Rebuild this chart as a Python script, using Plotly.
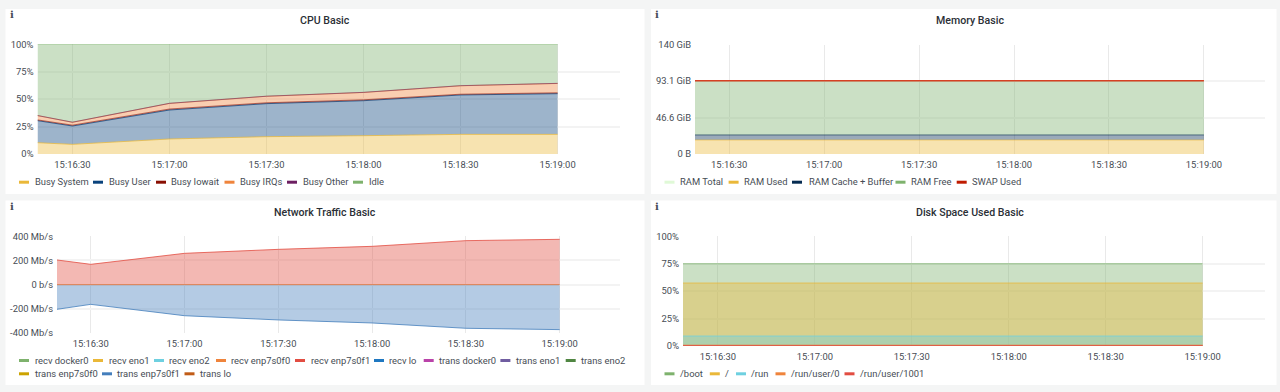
import plotly.graph_objects as go

# ---------- data ----------
TIMES = ["2024-01-01 15:16:19.2", "2024-01-01 15:16:30", "2024-01-01 15:17:00", "2024-01-01 15:17:30",
         "2024-01-01 15:18:00", "2024-01-01 15:18:30", "2024-01-01 15:19:00"]

cpu_system = [10.3, 8.8, 13.7, 15.8, 16.7, 17.9, 17.9]
cpu_user = [20.1, 16.7, 26.4, 30.1, 31.9, 35.9, 37.1]
cpu_iowait = [0.7, 0.8, 0.9, 0.8, 0.8, 0.7, 0.8]
cpu_irqs = [3.9, 2.6, 5.1, 5.9, 6.7, 7.7, 8.5]
cpu_other = [0.1, 0.1, 0.1, 0.1, 0.1, 0.1, 0.1]
cpu_idle = [64.9, 71.0, 53.8, 47.3, 43.8, 37.7, 35.6]

mem_total = [93.6] * 7
mem_used = [17.9] * 7
mem_cache = [6.4] * 7
mem_free = [69.3] * 7
mem_swap = [0.0] * 7

net_recv_f1 = [204, 168, 259, 292, 317, 364, 375]
net_trans_f1 = [-204, -163, -257, -292, -317, -361, -372]
net_zero = [0, 0, 0, 0, 0, 0, 0]

disk_boot = [75.0] * 7
disk_root = [57.4] * 7
disk_run = [9.1] * 7
disk_user0 = [0.8] * 7
disk_user1001 = [0.4] * 7

TICK_TIMES = ["2024-01-01 15:16:30", "2024-01-01 15:17:00", "2024-01-01 15:17:30",
              "2024-01-01 15:18:00", "2024-01-01 15:18:30", "2024-01-01 15:19:00"]
TICK_LABELS = ["15:16:30", "15:17:00", "15:17:30", "15:18:00", "15:18:30", "15:19:00"]
PCT_TICKS = [0, 25, 50, 75, 100]
PCT_LABELS = ["0%", "25%", "50%", "75%", "100%"]
MEM_TICKS = [0, 46.566, 93.132, 139.7]
MEM_LABELS = ["0 B", "46.6 GiB", "93.1 GiB", "140 GiB"]
NET_TICKS = [-400, -200, 0, 200, 400]
NET_LABELS = ["-400 Mb/s", "-200 Mb/s", "0 b/s", "200 Mb/s", "400 Mb/s"]

TITLES = ["CPU Basic", "Memory Basic", "Network Traffic Basic", "Disk Space Used Basic"]

# ---------- style ----------
W, H = 1280, 392
BG = "#f4f5f5"
TXT = "#464c54"
VGRID = "#e9e9e9"
HGRID = "#f3f3f3"
FONT = "Roboto"
FS = 9.4
X_RANGE = ["2024-01-01 15:16:19.2", "2024-01-01 15:19:19.3"]

def rgba(hex_c, a=0.4):
    h = hex_c.lstrip("#")
    return f"rgba({int(h[0:2],16)},{int(h[2:4],16)},{int(h[4:6],16)},{a})"

# plot rectangles in pixels: left, right, top, bottom
PLOTS = [(37.5, 620, 44.3, 154), (695, 1265, 44.5, 154), (57, 620, 236.3, 333), (683, 1265, 236.3, 346)]
PANELS = [(5.5, 644.5, 9, 194), (651, 1276.5, 9, 194), (5.5, 644.5, 200.6, 385), (651, 1276.5, 200.6, 385)]
TITLE_POS = [(324.5, 20.7), (970, 20.7), (325, 212), (970, 212)]
ICON_POS = [(11.5, 15), (657, 15), (11.5, 207), (657, 207)]

fig = go.Figure()

def area(panel, name, ys, color, stack=None, fill=True, width=1, line_alpha=0.75):
    ax = "" if panel == 0 else str(panel + 1)
    kw = {}
    if stack:
        kw["stackgroup"] = stack
    elif fill:
        kw["fill"] = "tozeroy"
    fig.add_trace(go.Scatter(x=TIMES, y=ys, name=name, mode="lines", xaxis="x" + ax, yaxis="y" + ax, cliponaxis=False,
                             line=dict(color=rgba(color, line_alpha), width=width), fillcolor=rgba(color) if fill else None,
                             showlegend=False, hoverinfo="x+y+name", **kw))

CPU = [("Busy System", cpu_system, "#EAB839"), ("Busy User", cpu_user, "#0A437C"),
       ("Busy Iowait", cpu_iowait, "#890F02"), ("Busy IRQs", cpu_irqs, "#EF843C"),
       ("Busy Other", cpu_other, "#6D1F62"), ("Idle", cpu_idle, "#7EB26D")]
for n, v, c in CPU:
    area(0, n, v, c, stack="cpu", line_alpha=0.55 if n in ("Busy Iowait", "Busy Other") else 0.75)

area(1, "RAM Total", mem_total, "#E0F9D7", fill=False)
MEM = [("RAM Used", mem_used, "#EAB839"), ("RAM Cache + Buffer", mem_cache, "#052B51"),
       ("RAM Free", mem_free, "#7EB26D"), ("SWAP Used", mem_swap, "#BF1B00")]
for n, v, c in MEM:
    if n == "SWAP Used":
        area(1, n, v, "#D8381C", stack="mem", width=1.5, line_alpha=0.95)
    else:
        area(1, n, v, c, stack="mem", line_alpha=0.6)

NET = [("recv docker0", net_zero, "#7EB26D"), ("recv eno1", net_zero, "#EAB839"), ("recv eno2", net_zero, "#6ED0E0"),
       ("recv enp7s0f0", net_zero, "#EF843C"), ("recv enp7s0f1", net_recv_f1, "#E24D42"), ("recv lo", net_zero, "#1F78C1"),
       ("trans docker0", net_zero, "#BA43A9"), ("trans eno1", net_zero, "#705DA0"), ("trans eno2", net_zero, "#508642"),
       ("trans enp7s0f0", net_zero, "#CCA300"), ("trans enp7s0f1", net_trans_f1, "#447EBC"), ("trans lo", net_zero, "#C15C17")]
for n, v, c in NET:
    if n == "trans lo":
        area(2, n, v, "#DE7A45", line_alpha=0.9)
    elif v is net_zero:
        area(2, n, v, c, width=0.5, line_alpha=0.0)
    else:
        area(2, n, v, c, line_alpha=0.8)

DISK = [("/boot", disk_boot, "#7EB26D"), ("/", disk_root, "#EAB839"), ("/run", disk_run, "#6ED0E0"),
        ("/run/user/0", disk_user0, "#EF843C"), ("/run/user/1001", disk_user1001, "#E24D42")]
for n, v, c in DISK:
    area(3, n, v, c)

# ---------- legends (swatch x, text x, y in pixels) ----------
LEG = [
    ([(n, c) for n, _, c in CPU], [(19, 34.7, 181.7), (93, 108.6, 181.7), (156, 171, 181.7), (224.5, 239.6, 181.7), (287, 303, 181.7), (353, 369, 181.7)]),
    ([("RAM Total", "#E0F9D7")] + [(n, c) for n, _, c in MEM], [(664.5, 680, 181.7), (728.6, 744, 181.7), (792, 808.6, 181.7), (895.5, 910.6, 181.7), (956.7, 972, 181.7)]),
    ([(n, c) for n, _, c in NET], [(19, 34.7, 360), (93, 108.6, 360), (154, 169.4, 360), (216, 231.4, 360), (295, 310.6, 360), (374, 389.4, 360),
                                   (423.7, 439, 360), (500.4, 516, 360), (565.7, 581, 360), (19, 34.7, 373.3), (102, 117, 373.3), (184.5, 200, 373.3)]),
    ([(n, c) for n, _, c in DISK], [(664.5, 680, 373.3), (709.8, 725, 373.3), (736, 751.4, 373.3), (775.5, 791, 373.3), (844.5, 860, 373.3)]),
]

shapes, annos = [], []
px = lambda x: x / W
py = lambda y: 1 - y / H

for (l, r, t, b) in PANELS:
    shapes.append(dict(type="rect", xref="paper", yref="paper", x0=px(l), x1=px(r), y0=py(b), y1=py(t),
                       fillcolor="#ffffff", line=dict(width=0), layer="below"))
for (items, pos) in LEG:
    for (n, c), (sx, tx, y) in zip(items, pos):
        shapes.append(dict(type="line", xref="paper", yref="paper", x0=px(sx), x1=px(sx + 10), y0=py(y + 0.5), y1=py(y + 0.5),
                           line=dict(color=c, width=3), layer="above"))
        annos.append(dict(text=n, xref="paper", yref="paper", x=px(tx), y=py(y), xanchor="left", yanchor="middle",
                          showarrow=False, borderpad=0, borderwidth=0, font=dict(family=FONT, size=FS, color=TXT)))
for title, (x, y) in zip(TITLES, TITLE_POS):
    annos.append(dict(text=title, xref="paper", yref="paper", x=px(x), y=py(y), xanchor="center", yanchor="middle",
                      showarrow=False, font=dict(family=FONT, size=10.6, color="#2b2f36", weight=500)))
for x, y in ICON_POS:
    annos.append(dict(text="ℹ", xref="paper", yref="paper", x=px(x), y=py(y), xanchor="center", yanchor="middle",
                      showarrow=False, font=dict(family="DejaVu Sans", size=10, color="#464c54")))

layout = dict(template="none", width=W, height=H, margin=dict(l=0, r=0, t=0, b=0, pad=0), paper_bgcolor=BG,
              plot_bgcolor="rgba(0,0,0,0)", font=dict(family=FONT, size=FS, color=TXT), showlegend=False,
              shapes=shapes, annotations=annos)

Y_AXES = [([0, 100], PCT_TICKS, PCT_LABELS), ([0, 139.7], MEM_TICKS, MEM_LABELS),
          ([-400, 400], NET_TICKS, NET_LABELS), ([0, 100], PCT_TICKS, PCT_LABELS)]
for i, ((l, r, t, b), (rng, tv, tt)) in enumerate(zip(PLOTS, Y_AXES)):
    s = "" if i == 0 else str(i + 1)
    layout["xaxis" + s] = dict(domain=[px(l), px(r)], range=X_RANGE, type="date", anchor="y" + s, automargin=False,
                               tickvals=TICK_TIMES, ticktext=TICK_LABELS, showgrid=True, gridcolor=VGRID, gridwidth=1,
                               zeroline=False, showline=False, ticks="", ticklabelstandoff=4,
                               tickfont=dict(family=FONT, size=FS, color=TXT))
    layout["yaxis" + s] = dict(domain=[py(b), py(t)], range=rng, anchor="x" + s, automargin=False, tickvals=tv, ticktext=tt,
                               showgrid=True, gridcolor=HGRID, gridwidth=2, zeroline=False, showline=False, ticks="",
                               ticklabelstandoff=3, tickfont=dict(family=FONT, size=FS, color=TXT))

fig.update_layout(**layout)
fig.write_html("out.html", config=dict(displayModeBar=False),
               post_script="document.body.style.margin='0';document.body.style.overflow='hidden';")
